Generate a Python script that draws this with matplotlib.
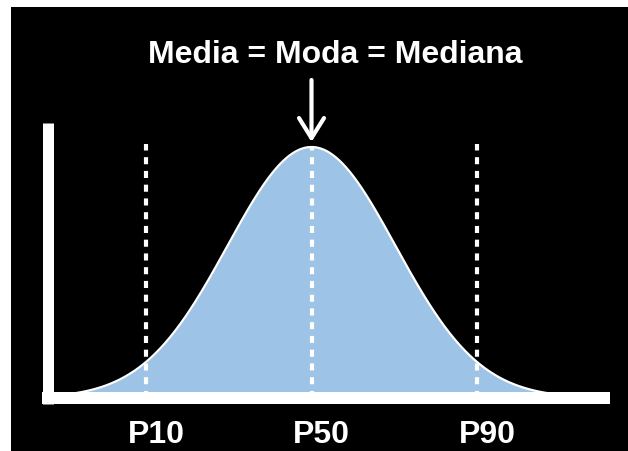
import numpy as np
import matplotlib
matplotlib.use("Agg")
import matplotlib.pyplot as plt
from matplotlib import transforms
from matplotlib.patches import Rectangle

# ---- data ----
title_text = "Media = Moda = Mediana"
percentile_labels = ["P10", "P50", "P90"]
percentile_x = [-1.97, 0.0, 1.97]      # positions in sigma units
percentile_top = [1.01, 1.0, 1.01]     # relative height of dotted lines
curve_mean = 0.0
curve_sigma = 1.0
curve_span = 2.9                        # drawn range, in sigmas
arrow_from = 1.267
arrow_to = 1.02

# ---- figure ----
W, H = 628, 451
fig = plt.figure(figsize=(W / 100, H / 100), dpi=100)
fig.patch.set_facecolor("black")
# white margin on the left and top
fig.add_artist(Rectangle((-0.01, -0.01), 11 / W + 0.01, 1.02,
                         transform=fig.transFigure, facecolor="white",
                         edgecolor="none", zorder=-10))
fig.add_artist(Rectangle((-0.01, (H - 7) / H), 1.02, 7 / H + 0.01,
                         transform=fig.transFigure, facecolor="white",
                         edgecolor="none", zorder=-10))

# axes: left edge = centre of vertical bar (x=47.5 px), bottom = centre of base bar (y=398 px)
left_px, right_px, bottom_px, top_px = 47.5, 610, 398, 123
ax = fig.add_axes([left_px / W, (H - bottom_px) / H,
                   (right_px - left_px) / W, (bottom_px - top_px) / H])
ax.set_zorder(5)
ax.set_facecolor("none")
for s in ax.spines.values():
    s.set_visible(False)
ax.set_xticks([])
ax.set_yticks([])

centre_px, sigma_px = 311.5, 84.0
ax.set_xlim((left_px - centre_px) / sigma_px, (right_px - centre_px) / sigma_px)
peak_h = 251.0
ax.set_ylim(0, (bottom_px - top_px) / peak_h)

# bell curve
z = np.linspace(curve_mean - curve_span * curve_sigma, curve_mean + curve_span * curve_sigma, 600)
y = np.exp(-0.5 * ((z - curve_mean) / curve_sigma) ** 2)
ax.fill_between(z, 0, y, color="#9DC3E6", lw=0, zorder=2)
ax.plot(z, y, color="white", lw=1.6, zorder=3)

# dotted percentile lines
for xv, top in zip(percentile_x, percentile_top):
    ax.plot([xv, xv], [0, top], color="white", lw=3.0,
            linestyle=(0, (1.7, 1.6)), dash_capstyle="butt", zorder=4)

# axis bars
ax.plot([0, 0], [-6 / (bottom_px - top_px), 1], transform=ax.transAxes,
        color="white", lw=11 * 0.72, solid_capstyle="butt", clip_on=False, zorder=6)
ax.plot([-5.5 / (right_px - left_px), 1], [0, 0], transform=ax.transAxes,
        color="white", lw=12 * 0.72, solid_capstyle="butt", clip_on=False, zorder=6)

# arrow
ax.annotate("", xy=(curve_mean, arrow_to), xytext=(curve_mean, arrow_from),
            arrowprops=dict(arrowstyle="->,head_length=0.72,head_width=0.45",
                            color="white", lw=3, shrinkA=0, shrinkB=0,
                            mutation_scale=20),
            annotation_clip=False, zorder=7)

# title
fig.text(335 / W, (H - 63) / H, title_text, color="white", fontsize=23,
         fontweight="bold", family="Liberation Sans", ha="center", va="baseline",
         zorder=10)

# percentile labels
trans = transforms.blended_transform_factory(ax.transData, fig.transFigure) + \
    transforms.ScaledTranslation(10 / 100, 0, fig.dpi_scale_trans)
for lab, xv in zip(percentile_labels, percentile_x):
    ax.text(xv, (H - 443) / H, lab, transform=trans, color="white", fontsize=23,
            fontweight="bold", family="Liberation Sans", ha="center", va="baseline",
            clip_on=False)

fig.savefig("out.png", dpi=100, facecolor=fig.get_facecolor())
